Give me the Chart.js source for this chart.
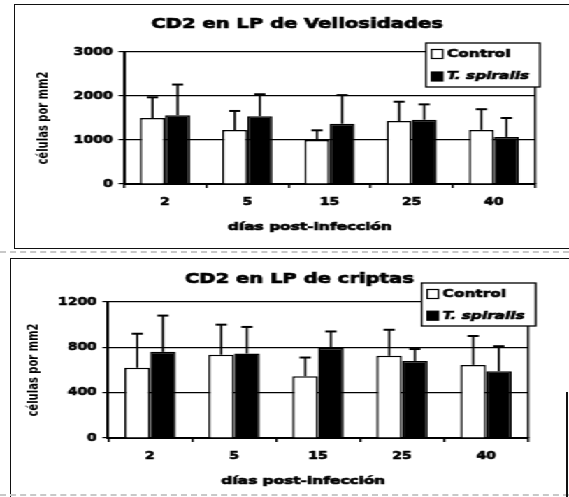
<!DOCTYPE html>
<html lang="es">
<head>
<meta charset="utf-8">
<title>CD2 en LP de vellosidades y criptas</title>
<script src="https://cdn.jsdelivr.net/npm/chart.js@4.4.1/dist/chart.umd.min.js"></script>
<style>
  html, body { margin: 0; padding: 0; background: #fff; overflow: hidden; }
  body { width: 569px; height: 497px; position: relative; }
  .marco { position: absolute; border-left: 1.5px solid #111; border-top: 1.5px solid #111; }
  #marco1 { left: 14px; top: 4px; width: 600px; height: 243px; border-bottom: 1.5px solid #111; }
  #marco2 { left: 10px; top: 258px; width: 600px; height: 240px; }
  .guiones { position: absolute; left: 0; width: 569px; border-top: 2px dashed #c8c8c8; }
  #filo { position: absolute; left: 566px; top: 392px; width: 0; height: 110px; border-left: 2px solid #111; }
  /* el escaneo original está estirado en horizontal */
  #estirado { position: absolute; left: 0; top: 0; width: 407px; height: 497px; transform: scaleX(1.398); transform-origin: 0 0; }
  #estirado canvas { position: absolute; left: 0; }
</style>
</head>
<body>
<div class="marco" id="marco1"></div>
<div class="guiones" style="top:251px"></div>
<div class="marco" id="marco2"></div>
<div class="guiones" style="top:494px"></div>
<div id="filo"></div>
<div id="estirado">
  <canvas id="graficoVell" width="407" height="250" style="top:0"></canvas>
  <canvas id="graficoCrip" width="407" height="247" style="top:250px"></canvas>
</div>
<script>
// Días post-infección (categorías)
const dias = ["2", "5", "15", "25", "40"];

// CD2 en LP de vellosidades (células por mm2)
const vellControl = [1500, 1230, 1000, 1430, 1230];
const vellControlErr = [470, 430, 220, 440, 470];
const vellTsp = [1560, 1540, 1370, 1460, 1070];
const vellTspErr = [700, 500, 650, 350, 430];

// CD2 en LP de criptas (células por mm2)
const cripControl = [620, 735, 545, 725, 645];
const cripControlErr = [300, 265, 165, 230, 255];
const cripTsp = [760, 745, 795, 680, 590];
const cripTspErr = [320, 235, 145, 105, 220];

// Marcas del eje Y
const ticksVell = [0, 1000, 2000, 3000];
const ticksCrip = [0, 400, 800, 1200];

Chart.defaults.font.family = "'DejaVu Sans', sans-serif";
Chart.defaults.font.weight = "bold";
Chart.defaults.color = "#000";

// Texto "grueso" como en el escaneo: relleno + trazo fino
function textoGrueso(ctx, txt, x, y) {
  ctx.fillText(txt, x, y);
  ctx.strokeText(txt, x, y);
}

// Barras de error (solo hacia arriba, con tope)
const barrasError = {
  id: "barrasError",
  afterDatasetsDraw(chart) {
    const ctx = chart.ctx;
    const y = chart.scales.y;
    ctx.save();
    ctx.strokeStyle = "#000";
    chart.data.datasets.forEach((ds, i) => {
      chart.getDatasetMeta(i).data.forEach((bar, j) => {
        const tope = y.getPixelForValue(ds.data[j] + ds.errores[j]);
        ctx.lineWidth = 1.6;
        ctx.beginPath();
        ctx.moveTo(bar.x, bar.y);
        ctx.lineTo(bar.x, tope);
        ctx.stroke();
        ctx.lineWidth = 2;
        ctx.beginPath();
        ctx.moveTo(bar.x - 4, tope);
        ctx.lineTo(bar.x + 4, tope);
        ctx.stroke();
      });
    });
    ctx.restore();
  },
};

// Título, título del eje X, marco derecho y leyenda en recuadro
const rotulos = {
  id: "rotulos",
  afterDraw(chart, args, o) {
    const ctx = chart.ctx;
    const area = chart.chartArea;
    ctx.save();
    ctx.strokeStyle = "#000";
    ctx.lineWidth = 1.5;
    ctx.beginPath();
    ctx.moveTo(area.right, area.top);
    ctx.lineTo(area.right, area.bottom);
    ctx.stroke();

    ctx.fillStyle = "#000";
    ctx.textAlign = "center";
    ctx.textBaseline = "middle";
    ctx.lineWidth = 0.7;
    ctx.font = "bold 14px 'DejaVu Sans'";
    textoGrueso(ctx, o.titulo, o.tituloX, o.tituloY);
    ctx.font = "bold 11px 'DejaVu Sans'";
    textoGrueso(ctx, o.ejeX, o.ejeXX, o.ejeXY);

    const L = o.leyenda;
    ctx.fillStyle = "#fff";
    ctx.fillRect(L.x, L.y, L.w, L.h);
    ctx.lineWidth = 1.3;
    ctx.strokeRect(L.x, L.y, L.w, L.h);
    chart.data.datasets.forEach((ds, i) => {
      const fy = L.filas[i];
      ctx.fillStyle = ds.backgroundColor;
      ctx.fillRect(L.x + 4, fy - 4.5, 8, 9);
      ctx.lineWidth = 1.2;
      ctx.strokeRect(L.x + 4, fy - 4.5, 8, 9);
      ctx.fillStyle = "#000";
      ctx.textAlign = "left";
      ctx.lineWidth = 0.6;
      ctx.font = (ds.cursiva ? "italic " : "") + "bold 11px 'DejaVu Sans'";
      textoGrueso(ctx, ds.label, L.x + 15, fy);
    });
    ctx.restore();
  },
};

function crearGrafico(id, control, controlErr, tsp, tspErr, marcas, f) {
  new Chart(document.getElementById(id), {
    type: "bar",
    data: {
      labels: dias,
      datasets: [
        {
          label: "Control",
          data: control,
          errores: controlErr,
          backgroundColor: "#fff",
          borderColor: "#000",
          borderWidth: 1.5,
        },
        {
          label: "T. spiralis",
          cursiva: true,
          data: tsp,
          errores: tspErr,
          backgroundColor: "#000",
          borderColor: "#000",
          borderWidth: 1.5,
        },
      ],
    },
    options: {
      responsive: false,
      animation: false,
      categoryPercentage: 0.61,
      barPercentage: 1,
      layout: { padding: { left: f.izq, top: 52, right: f.der, bottom: 0 } },
      scales: {
        x: {
          afterFit: (s) => { s.height = f.altoX; },
          grid: { drawOnChartArea: false, drawTicks: true, tickLength: 4, color: "#000", lineWidth: 1.5 },
          border: { color: "#000", width: 2 },
          ticks: {
            font: { size: 10, weight: "bold" },
            color: "#000",
            padding: 8,
            textStrokeColor: "#000",
            textStrokeWidth: 0.6,
          },
        },
        y: {
          min: marcas[0],
          max: marcas[marcas.length - 1],
          afterFit: (s) => { s.width = f.anchoY; },
          grid: { color: "#000", lineWidth: 1.2, tickLength: 4 },
          border: { color: "#000", width: 2 },
          ticks: {
            stepSize: marcas[1] - marcas[0],
            callback: (v) => String(v),
            font: { size: 10, weight: "bold" },
            color: "#000",
            padding: 4,
            textStrokeColor: "#000",
            textStrokeWidth: 0.6,
          },
          title: {
            display: true,
            text: "células por mm2",
            font: { size: 10, weight: "bold" },
            color: "#000",
            padding: { top: 4, bottom: 0 },
          },
        },
      },
      plugins: {
        legend: { display: false },
        tooltip: { enabled: false },
        rotulos: f.rotulos,
      },
    },
    plugins: [barrasError, rotulos],
  });
}

crearGrafico("graficoVell", vellControl, vellControlErr, vellTsp, vellTspErr, ticksVell, {
  izq: 21, der: 24.3, anchoY: 67.7, altoX: 66,
  rotulos: {
    titulo: "CD2 en LP de Vellosidades", tituloX: 212.5, tituloY: 24,
    ejeX: "días post-infección", ejeXX: 221.7, ejeXY: 227,
    leyenda: { x: 304.7, y: 43, w: 81.5, h: 44, filas: [54, 76.5] },
  },
});

crearGrafico("graficoCrip", cripControl, cripControlErr, cripTsp, cripTspErr, ticksCrip, {
  izq: 14, der: 29.3, anchoY: 63.3, altoX: 59,
  rotulos: {
    titulo: "CD2 en LP de criptas", tituloX: 214.2, tituloY: 29,
    ejeX: "días post-infección", ejeXX: 217, ejeXY: 231,
    leyenda: { x: 301.6, y: 33, w: 81.6, h: 43, filas: [44, 65.7] },
  },
});
</script>
</body>
</html>
